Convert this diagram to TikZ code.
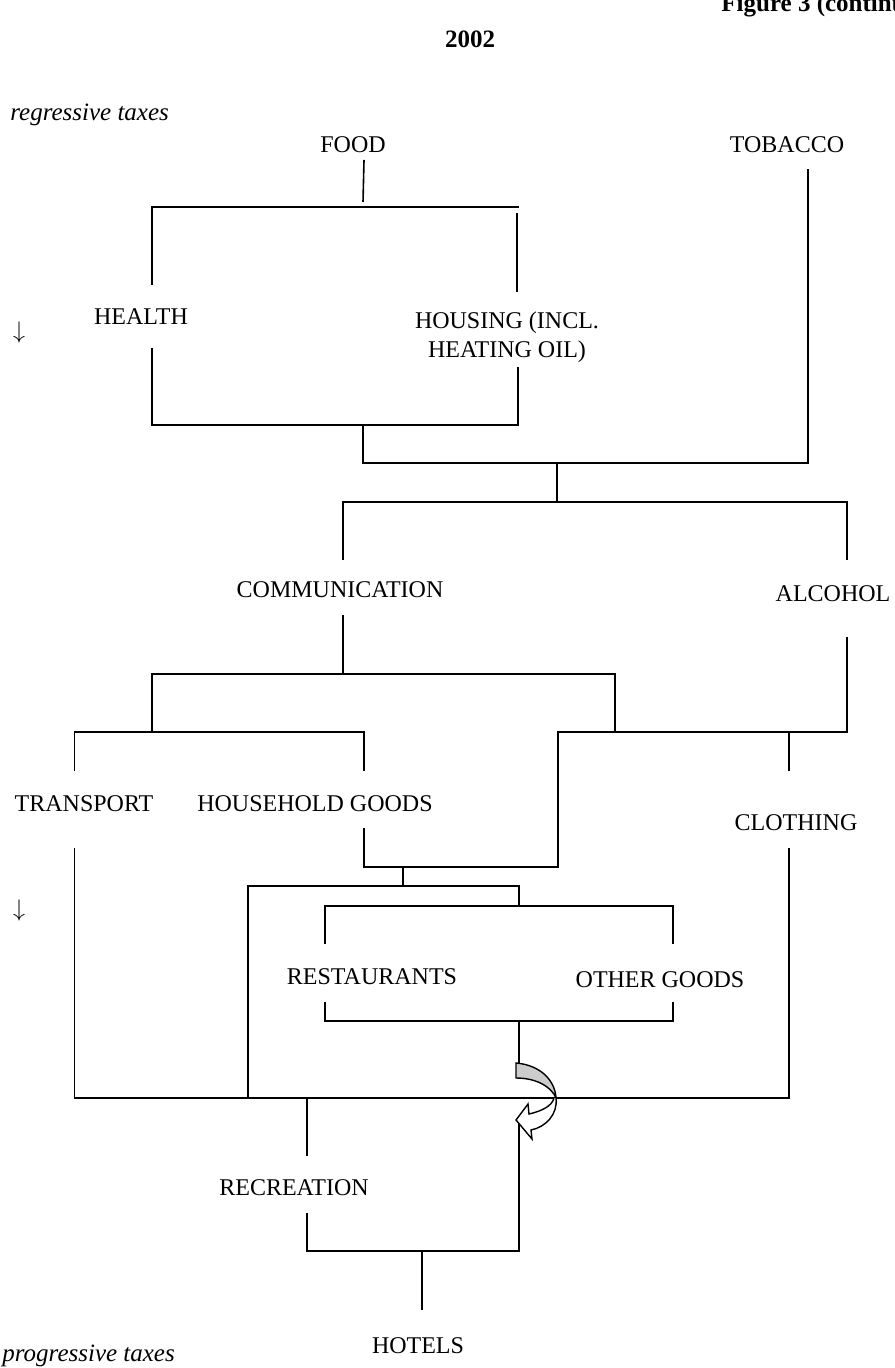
\documentclass[tikz,border=0pt]{standalone}
\usepackage{fontspec}
\setmainfont{Liberation Serif}
\usetikzlibrary{positioning}
\tikzset{
  lbl/.style={inner sep=1pt, align=center, font=\fontsize{12}{14.5}\selectfont},
  side/.style={inner sep=0pt, anchor=west, font=\fontsize{12.5}{14.5}\selectfont\itshape},
  head/.style={inner sep=0pt, anchor=base west, font=\fontsize{12.5}{14.5}\selectfont\bfseries},
  br/.style={line width=0.8pt},
}

\begin{document}
\begin{tikzpicture}[x=0.5pt, y=-0.5pt]
  \useasboundingbox (0,0) rectangle (894,1368);
  % headings and margin notes
  \node[head] (fig) at (721,12) {Figure 3 (continued)};
  \node[head, anchor=base] (year) at (470,48) {2002};
  \node[side] (regr) at (10,115) {regressive taxes};
  \node[side] (progr) at (2,1356) {progressive taxes};
  \node[lbl] (dn1) at (19,333) {$\downarrow$};
  \node[lbl] (dn2) at (19,910) {$\downarrow$};

  % categories
  \node[lbl] (food) at (353,145) {FOOD};
  \node[lbl] (tob) at (787,145) {TOBACCO};
  \node[lbl] (health) at (141,317) {HEALTH};
  \node[lbl] (housing) at (507,337) {HOUSING (INCL.\\HEATING OIL)};
  \node[lbl] (comm) at (340,590) {COMMUNICATION};
  \node[lbl] (alc) at (833,594) {ALCOHOL};
  \node[lbl] (transp) at (84,804) {TRANSPORT};
  \node[lbl] (hhgoods) at (315,804) {HOUSEHOLD GOODS};
  \node[lbl] (cloth) at (796,823) {CLOTHING};
  \node[lbl] (rest) at (372,977) {RESTAURANTS};
  \node[lbl] (other) at (660,980) {OTHER GOODS};
  \node[lbl] (recr) at (294,1188) {RECREATION};
  \node[lbl] (hotels) at (418,1346) {HOTELS};

  % junctions and leg ends
  \coordinate (f1) at (364,160);  \coordinate (f2) at (363,202);
  \coordinate (a1) at (152,285);  \coordinate (a2) at (519,207);
  \coordinate (h1) at (517,213);  \coordinate (h2) at (517,292);
  \coordinate (a3) at (152,348);  \coordinate (a4) at (518,367);
  \coordinate (c1) at (363,425);  \coordinate (c2) at (557,463);
  \coordinate (t1) at (808,169);  \coordinate (c3) at (557,502);
  \coordinate (com1) at (343,560); \coordinate (alc1) at (847,560);
  \coordinate (com2) at (343,615); \coordinate (c4) at (343,674);
  \coordinate (d1) at (152,732);  \coordinate (d2) at (615,732);
  \coordinate (tr1) at (74.5,771); \coordinate (hh1) at (364,771);
  \coordinate (alc2) at (847,637); \coordinate (g1) at (558,732);
  \coordinate (g2) at (403,867);  \coordinate (hh2) at (364,828);
  \coordinate (cl0) at (789,732); \coordinate (cl1) at (789,771);
  \coordinate (g3) at (403,886);
  \coordinate (k1) at (248,1098); \coordinate (k2) at (519,906);
  \coordinate (r1) at (325,944);  \coordinate (o1) at (673,944);
  \coordinate (r2) at (325,1002); \coordinate (o2) at (673,1002);
  \coordinate (m1) at (519,1021); \coordinate (m2) at (519,1063);
  \coordinate (tr2) at (74.5,848); \coordinate (cl2) at (789,848);
  \coordinate (rc1) at (307,1156); \coordinate (rc2) at (307,1213);
  \coordinate (n1) at (422,1251); \coordinate (ar) at (519,1119);
  \coordinate (ho1) at (422,1310);

  % brackets
  \draw[br] (f1) -- (f2);
  \draw[br] (a1) |- (a2);
  \draw[br] (h1) -- (h2);
  \draw[br] (a3) |- (c1) -| (a4);
  \draw[br] (c1) |- (c2) -| (t1);
  \draw[br] (c2) -- (c3);
  \draw[br] (com1) |- (c3) -| (alc1);
  \draw[br] (com2) -- (c4);
  \draw[br] (d1) |- (c4) -| (d2);
  \draw[br] (tr1) |- (d1) -| (hh1);
  \draw[br] (alc2) |- (g1) |- (g2) -| (hh2);
  \draw[br] (cl1) -- (cl0);
  \draw[br] (g2) -- (g3);
  \draw[br] (k1) |- (g3) -| (k2);
  \draw[br] (r1) |- (k2) -| (o1);
  \draw[br] (r2) |- (m1) -| (o2);
  \draw[br] (m1) -- (m2);
  \draw[br] (tr2) |- (k1) -| (cl2);
  \draw[br] (rc1) -- (rc1 |- k1);
  \draw[br] (rc2) |- (n1) -| (ar);
  \draw[br] (n1) -- (ho1);

  % curved arrow
  \draw[line width=0.7pt, fill=black!20] (516,1063) .. controls (540,1065) and (555,1080) .. (556,1098)
    .. controls (552,1088) and (538,1078) .. (516,1078) -- cycle;
  \draw[line width=0.7pt, fill=white] (556,1098) .. controls (558,1114) and (546,1127) .. (531,1130)
    -- (532,1139) -- (516,1120) -- (528,1104) -- (529,1114)
    .. controls (542,1111) and (552,1106) .. (554,1098);
\end{tikzpicture}
\end{document}
